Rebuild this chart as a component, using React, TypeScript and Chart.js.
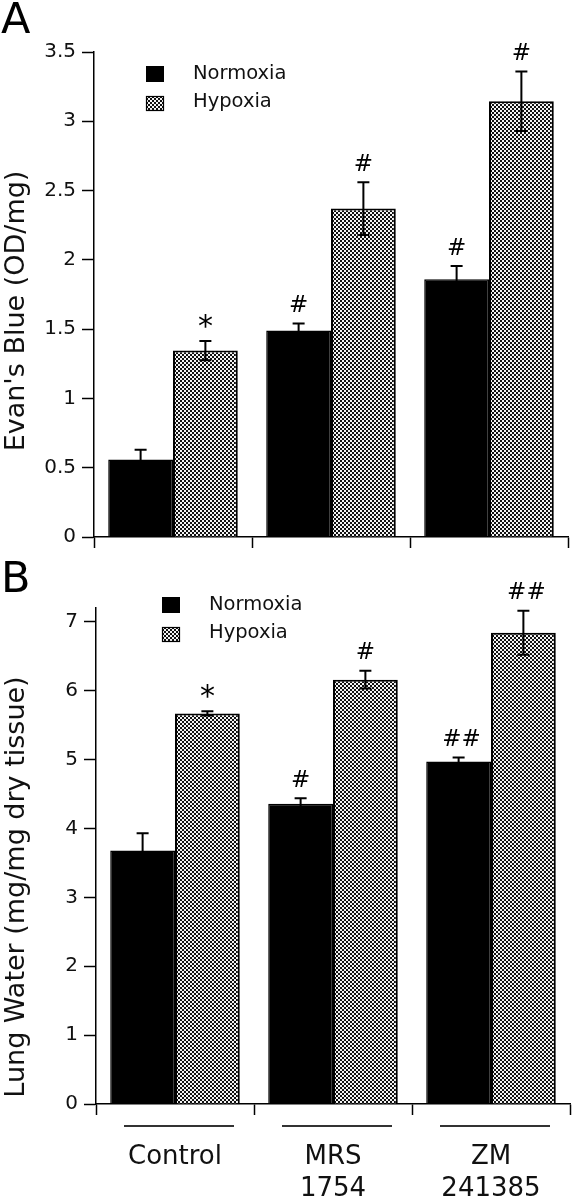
import React, { useEffect, useRef } from "react";
import { Chart, registerables } from "chart.js";

Chart.register(...registerables);

// ---------- data ----------
const categories = [["Control"], ["MRS", "1754"], ["ZM", "241385"]];
const seriesNames = ["Normoxia", "Hypoxia"];

// Panel A: Evan's Blue (OD/mg)
const evansNormoxia = [0.56, 1.49, 1.86];
const evansNormoxiaErr = [0.07, 0.05, 0.095];
const evansHypoxia = [1.345, 2.37, 3.145];
const evansHypoxiaErr = [0.07, 0.19, 0.215];
const evansNormoxiaMarks = ["", "#", "#"];
const evansHypoxiaMarks = ["*", "#", "#"];
const evansTicks = [0, 0.5, 1, 1.5, 2, 2.5, 3, 3.5];

// Panel B: Lung Water (mg/mg dry tissue)
const lungNormoxia = [3.68, 4.36, 4.97];
const lungNormoxiaErr = [0.25, 0.08, 0.06];
const lungHypoxia = [5.67, 6.16, 6.84];
const lungHypoxiaErr = [0.03, 0.13, 0.32];
const lungNormoxiaMarks = ["", "#", "##"];
const lungHypoxiaMarks = ["*", "#", "##"];
const lungTicks = [0, 1, 2, 3, 4, 5, 6, 7];

const FONT = "'DejaVu Sans', Verdana, sans-serif";

function makePattern(): CanvasPattern | string {
  const c = document.createElement("canvas");
  c.width = 4;
  c.height = 4;
  const g = c.getContext("2d");
  if (!g) return "#888";
  g.fillStyle = "#f4f4f4";
  g.fillRect(0, 0, 4, 4);
  g.fillStyle = "#111";
  g.fillRect(0, 0, 2, 2);
  g.fillRect(2, 2, 2, 2);
  return g.createPattern(c, "repeat") || "#888";
}

type PanelCfg = {
  letter: string;
  letterY: number;
  title: string;
  titleY: number;
  legendX: number;
  legendY: number;
  errs: number[][];
  marks: string[][];
  underlineY?: number;
  pattern: CanvasPattern | string;
};

function decorPlugin(cfg: PanelCfg) {
  return {
    id: "panelDecor",
    afterDatasetsDraw(chart: any) {
      const ctx: CanvasRenderingContext2D = chart.ctx;
      const ys = chart.scales.y;
      ctx.save();
      chart.data.datasets.forEach((ds: any, di: number) => {
        const meta = chart.getDatasetMeta(di);
        meta.data.forEach((bar: any, i: number) => {
          const v = ds.data[i] as number;
          const e = cfg.errs[di][i];
          const x = bar.x;
          const yTop = ys.getPixelForValue(v + e);
          const yBot = ys.getPixelForValue(v - e);
          ctx.strokeStyle = "#000";
          ctx.lineWidth = 2;
          ctx.beginPath();
          ctx.moveTo(x, yTop);
          ctx.lineTo(x, yBot);
          ctx.moveTo(x - 6, yTop);
          ctx.lineTo(x + 6, yTop);
          ctx.moveTo(x - 6, yBot);
          ctx.lineTo(x + 6, yBot);
          ctx.stroke();
          const m = cfg.marks[di][i];
          if (m) {
            const size = m === "*" ? 30 : 23;
            ctx.font = `${size}px ${FONT}`;
            ctx.fillStyle = "#000";
            ctx.textAlign = "center";
            ctx.textBaseline = "alphabetic";
            const tm = ctx.measureText(m);
            const cy = yTop - 20;
            const by = cy + (tm.actualBoundingBoxAscent - tm.actualBoundingBoxDescent) / 2;
            ctx.fillText(m, x + (m.length > 1 ? 3 : 0), by);
          }
        });
      });
      ctx.restore();
    },
    afterDraw(chart: any) {
      const ctx: CanvasRenderingContext2D = chart.ctx;
      ctx.save();
      // panel letter
      ctx.fillStyle = "#000";
      ctx.font = `43px ${FONT}`;
      ctx.textAlign = "left";
      ctx.textBaseline = "alphabetic";
      ctx.fillText(cfg.letter, 1, cfg.letterY);
      // y title
      ctx.save();
      ctx.translate(24, cfg.titleY);
      ctx.rotate(-Math.PI / 2);
      ctx.font = `27px ${FONT}`;
      ctx.textAlign = "center";
      ctx.fillStyle = "#111";
      ctx.fillText(cfg.title, 0, 0);
      ctx.restore();
      // legend
      const lx = cfg.legendX;
      const ly = cfg.legendY;
      ctx.fillStyle = "#000";
      ctx.fillRect(lx, ly, 18, 16);
      ctx.fillStyle = cfg.pattern as any;
      ctx.fillRect(lx, ly + 30, 18, 15);
      ctx.strokeStyle = "#000";
      ctx.lineWidth = 1.2;
      ctx.strokeRect(lx + 0.5, ly + 30.5, 17, 14);
      ctx.fillStyle = "#111";
      ctx.font = `19.5px ${FONT}`;
      ctx.textAlign = "left";
      ctx.textBaseline = "middle";
      ctx.fillText(seriesNames[0], lx + 47, ly + 8);
      ctx.fillText(seriesNames[1], lx + 47, ly + 36);
      // category underlines
      if (cfg.underlineY !== undefined) {
        const xs = chart.scales.x;
        ctx.strokeStyle = "#333";
        ctx.lineWidth = 2;
        categories.forEach((_, i) => {
          const cx = xs.getPixelForValue(i) + 4;
          ctx.beginPath();
          ctx.moveTo(cx - 55, cfg.underlineY as number);
          ctx.lineTo(cx + 55, cfg.underlineY as number);
          ctx.stroke();
        });
      }
      ctx.restore();
    },
  };
}

type ChartSpec = {
  height: number;
  normoxia: number[];
  hypoxia: number[];
  errs: number[][];
  marks: string[][];
  ticks: number[];
  max: number;
  yWidth: number;
  xHeight: number;
  padTop: number;
  padRight: number;
  showLabels: boolean;
  letter: string;
  letterY: number;
  title: string;
  titleY: number;
  legendX: number;
  legendY: number;
  underlineY?: number;
};

function Panel({ spec }: { spec: ChartSpec }) {
  const ref = useRef<HTMLCanvasElement | null>(null);
  useEffect(() => {
    if (!ref.current) return;
    const pattern = makePattern();
    const chart = new Chart(ref.current, {
      type: "bar",
      data: {
        labels: categories as any,
        datasets: [
          {
            label: seriesNames[0],
            data: spec.normoxia,
            backgroundColor: "#000",
            borderColor: "#000",
            borderWidth: 1.5,
            categoryPercentage: 0.82,
            barPercentage: 1.0,
          },
          {
            label: seriesNames[1],
            data: spec.hypoxia,
            backgroundColor: pattern as any,
            borderColor: "#000",
            borderWidth: 2,
            categoryPercentage: 0.82,
            barPercentage: 1.0,
          },
        ],
      },
      options: {
        responsive: false,
        animation: false,
        devicePixelRatio: 1,
        layout: { padding: { left: 0, right: spec.padRight, top: spec.padTop, bottom: 0 } },
        plugins: {
          legend: { display: false },
          tooltip: { enabled: false },
        },
        scales: {
          x: {
            afterFit: (s: any) => {
              s.height = spec.xHeight;
            },
            ticks: {
              display: spec.showLabels,
              color: "#111",
              padding: 26,
              maxRotation: 0,
              autoSkip: false,
              font: { family: FONT, size: 26, lineHeight: "32px" as any },
            },
            grid: {
              offset: true,
              drawOnChartArea: false,
              drawTicks: true,
              tickLength: 11,
              tickWidth: 1.5,
              tickColor: "#000",
              color: "#000",
            },
            border: { display: true, color: "#000", width: 1.5 },
          },
          y: {
            min: 0,
            max: spec.max,
            afterBuildTicks: (s: any) => {
              s.ticks = spec.ticks.map((v) => ({ value: v }));
            },
            afterFit: (s: any) => {
              s.width = spec.yWidth;
            },
            ticks: {
              color: "#111",
              padding: 6,
              font: { family: FONT, size: 20 },
              callback: (v: any) => String(v),
            },
            grid: {
              drawOnChartArea: false,
              drawTicks: true,
              tickLength: 12,
              tickWidth: 1.5,
              tickColor: "#000",
              color: "#000",
            },
            border: { display: true, color: "#000", width: 1.5 },
          },
        },
      },
      plugins: [
        decorPlugin({
          letter: spec.letter,
          letterY: spec.letterY,
          title: spec.title,
          titleY: spec.titleY,
          legendX: spec.legendX,
          legendY: spec.legendY,
          errs: spec.errs,
          marks: spec.marks,
          underlineY: spec.underlineY,
          pattern,
        }),
      ],
    });
    return () => chart.destroy();
  }, [spec]);
  return <canvas ref={ref} width={572} height={spec.height} style={{ display: "block", width: 572, height: spec.height }} />;
}

const specA: ChartSpec = {
  height: 555,
  normoxia: evansNormoxia,
  hypoxia: evansHypoxia,
  errs: [evansNormoxiaErr, evansHypoxiaErr],
  marks: [evansNormoxiaMarks, evansHypoxiaMarks],
  ticks: evansTicks,
  max: 3.5,
  yWidth: 94,
  xHeight: 17,
  padTop: 52,
  padRight: 4,
  showLabels: false,
  letter: "A",
  letterY: 33,
  title: "Evan's Blue (OD/mg)",
  titleY: 311,
  legendX: 146,
  legendY: 66,
};

const specB: ChartSpec = {
  height: 645,
  normoxia: lungNormoxia,
  hypoxia: lungHypoxia,
  errs: [lungNormoxiaErr, lungHypoxiaErr],
  marks: [lungNormoxiaMarks, lungHypoxiaMarks],
  ticks: lungTicks,
  max: 7.2,
  yWidth: 96,
  xHeight: 96,
  padTop: 53,
  padRight: 2,
  showLabels: true,
  letter: "B",
  letterY: 37,
  title: "Lung Water (mg/mg dry tissue)",
  titleY: 332,
  legendX: 162,
  legendY: 42,
  underlineY: 571,
};

export default function App() {
  return (
    <div style={{ position: "absolute", left: 0, top: 0, width: 572, height: 1200, background: "#fff" }}>
      <Panel spec={specA} />
      <Panel spec={specB} />
    </div>
  );
}
